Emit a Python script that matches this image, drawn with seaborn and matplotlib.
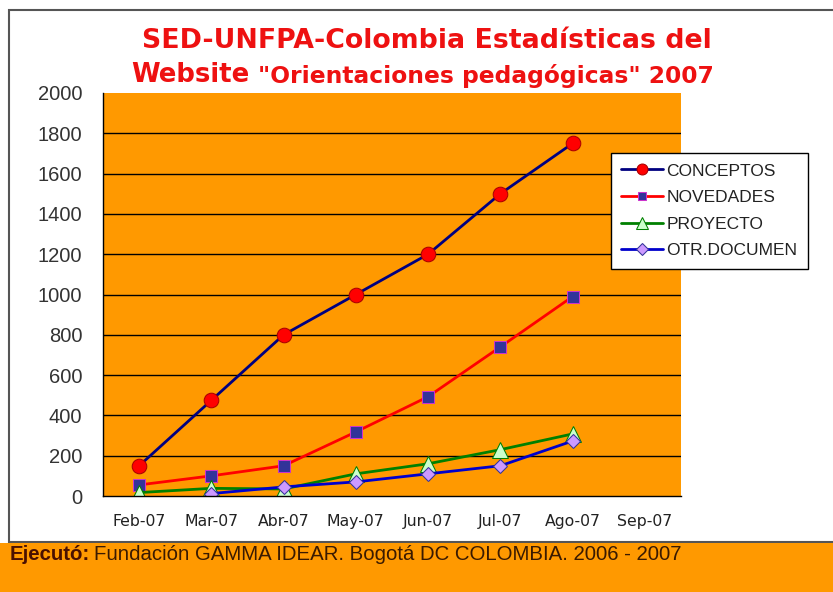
import numpy as np
import pandas as pd
import matplotlib
matplotlib.use("Agg")
import matplotlib.pyplot as plt
from matplotlib.patches import Rectangle
import seaborn as sns

# data
months = ['Feb-07', 'Mar-07', 'Abr-07', 'May-07', 'Jun-07', 'Jul-07', 'Ago-07', 'Sep-07']
conceptos = [150, 475, 800, 1000, 1200, 1500, 1750]
novedades = [55, 100, 150, 318, 493, 740, 990]
proyecto = [17, 38, 35, 110, 160, 230, 308]
otr_documen = [np.nan, 12, 45, 70, 110, 150, 273]
y_ticks = [0, 200, 400, 600, 800, 1000, 1200, 1400, 1600, 1800, 2000]

W, H = 833, 592
sns.set_theme(style="white")
plt.rcParams['font.family'] = ['DejaVu Sans']

fig = plt.figure(figsize=(W / 100, H / 100), dpi=100)
fig.patch.set_facecolor('white')

# chart frame and orange footer band
fig.patches.append(Rectangle((9 / W, 1 - 542 / H), 1.0, (542 - 10) / H, transform=fig.transFigure,
                             facecolor='white', edgecolor='#555555', lw=1.5, zorder=-2))
fig.patches.append(Rectangle((0, 0), 1, (H - 543) / H, transform=fig.transFigure,
                             facecolor='#FF9900', edgecolor='none', zorder=-2))

ax = fig.add_axes([103 / W, (H - 496) / H, (681 - 103) / W, (496 - 93) / H])
ax.set_zorder(2)
ax.set_facecolor('#FF9900')

series = [
    ('CONCEPTOS', conceptos, dict(color='#000080', marker='o', markersize=10.5,
                                  markerfacecolor='#FF0000', markeredgecolor='#AA0000')),
    ('NOVEDADES', novedades, dict(color='#FF0000', marker='s', markersize=8.5,
                                  markerfacecolor='#333399', markeredgecolor='#CC33CC')),
    ('PROYECTO', proyecto, dict(color='#008000', marker='^', markersize=11,
                                markerfacecolor='#CCFFCC', markeredgecolor='#008000')),
    ('OTR.DOCUMEN', otr_documen, dict(color='#0000CC', marker='D', markersize=7.5,
                                      markerfacecolor='#CC99FF', markeredgecolor='#333399')),
]

for name, vals, kw in series:
    df = pd.DataFrame({'mes': months[:len(vals)], 'valor': vals}).dropna()
    sns.lineplot(data=df, x='mes', y='valor', ax=ax, label=name, lw=2, **kw)

ax.set_xlim(-0.5, len(months) - 0.5)
ax.set_ylim(0, 2000)
ax.set_xticks(range(len(months)))
ax.set_xticklabels(months, fontsize=11.3, color='#222222')
ax.set_xticks(np.arange(-0.5, len(months)), minor=True)
ax.tick_params(axis='x', which='major', length=0, pad=13)
ax.tick_params(axis='x', which='minor', length=7, width=1, color='black', direction='out')
ax.set_yticks(y_ticks)
ax.set_yticklabels([str(v) for v in y_ticks], fontsize=14.5, family='Liberation Sans', color='#333333')
ax.tick_params(axis='y', length=6, width=1, color='black', direction='out', pad=9)
ax.set_xlabel('')
ax.set_ylabel('')

ax.yaxis.grid(True, color='black', lw=1)
ax.xaxis.grid(False)
ax.set_axisbelow(True)
gl = ax.get_ygridlines()
gl[-1].set_visible(False)
gl[0].set_visible(False)
for s in ['top', 'right']:
    ax.spines[s].set_visible(False)
for s in ['left', 'bottom']:
    ax.spines[s].set_color('black')
    ax.spines[s].set_linewidth(1)

leg = ax.legend(loc='upper left', bbox_to_anchor=(611 / W, 1 - 153 / H), bbox_transform=fig.transFigure,
                frameon=True, fancybox=False, edgecolor='black', facecolor='white', framealpha=1,
                prop={'family': 'Liberation Sans', 'size': 12.5}, handlelength=2.4, handletextpad=0.2,
                borderpad=0.6, labelspacing=0.66, borderaxespad=0, markerscale=0.75)
leg.get_frame().set_linewidth(1)
for t in leg.get_texts():
    t.set_color('#222222')

# title
red = '#EE1111'
fig.text(427 / W, 1 - 41 / H, 'SED-UNFPA-Colombia Estadísticas del', ha='center', va='center',
         fontsize=19.3, fontweight='bold', color=red)
fig.text(249 / W, 1 - 75 / H, 'Website', ha='right', va='center', fontsize=18.7, fontweight='bold', color=red)
fig.text(258 / W, 1 - 76 / H, '"Orientaciones pedagógicas" 2007', ha='left', va='center',
         fontsize=16.8, fontweight='bold', color=red)

# footer
t1 = fig.text(10 / W, 1 - 554 / H, 'Ejecutó:', ha='left', va='center', fontsize=14.7,
              fontweight='bold', family='Liberation Sans', color='#4A1000')
fig.canvas.draw()
bb = t1.get_window_extent()
fig.text((bb.x1 + 4) / W, 1 - 554 / H, 'Fundación GAMMA IDEAR. Bogotá DC COLOMBIA. 2006 - 2007',
         ha='left', va='center', fontsize=14.7, family='Liberation Sans', color='#3A1A00')

fig.savefig('out.png', dpi=100, facecolor=fig.get_facecolor())
